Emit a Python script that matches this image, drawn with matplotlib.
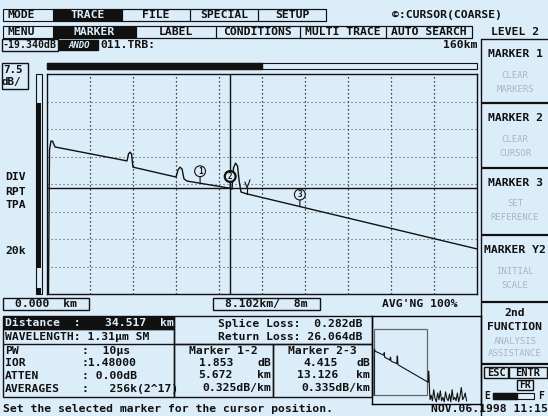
import numpy as np
import matplotlib
matplotlib.use("Agg")
import matplotlib.pyplot as plt
from matplotlib.patches import Rectangle

W, H = 548, 416
BG = "#dcedfa"
INK = "#111111"
DIM = "#aab6c2"
MONO = "DejaVu Sans Mono"

# --- screen texts -------------------------------------------------------
mode_tabs = ["TRACE", "FILE", "SPECIAL", "SETUP"]
mode_edges = [53, 122, 190, 258, 326]
menu_tabs = ["MARKER", "LABEL", "CONDITIONS", "MULTI TRACE", "AUTO SEARCH"]
menu_edges = [53, 136, 216, 300, 386, 472]
side_keys = ["MARKER 1", "MARKER 2", "MARKER 3", "MARKER Y2"]
side_hints = [("CLEAR", "MARKERS"), ("CLEAR", "CURSOR"),
              ("SET", "REFERENCE"), ("INITIAL", "SCALE")]
info_labels = ["PW", "IOR", "ATTEN", "AVERAGES"]
info_values = ["  10µs", "1.48000", " 0.00dB", "   256k(2^17)"]
m12 = ["1.853", "5.672", "0.325dB/km"]
m23 = ["4.415", "13.126", "0.335dB/km"]

# --- trace (km, dB) -----------------------------------------------------
km_per_div, db_per_div = 8.102, 7.5
n_xdiv, n_ydiv = 10, 8
trace_km = [0.28, 0.47, 0.75, 1.04, 1.51, 15.07, 15.36, 15.64, 15.92, 16.20,
            24.31, 24.68, 25.06, 25.44, 25.81, 26.38, 34.29, 34.86, 35.14,
            35.52, 35.90, 36.18, 36.55, 37.68, 81.0]
trace_db = [-60.0, -20.7, -18.3, -18.3, -19.9, -23.7, -21.8, -21.3, -21.8,
            -25.4, -28.1, -26.2, -25.4, -25.9, -28.6, -29.2, -31.1, -31.4,
            -25.6, -24.3, -25.1, -28.9, -32.2, -32.7, -47.7]
tail_km = [82.5, 83.2, 83.8, 84.6, 85.4, 87, 89, 91, 93, 95, 97, 99,
           101, 103, 105, 107, 109, 111, 113, 115, 117, 119, 121, 123, 125,
           127, 129, 131, 133, 135, 137, 139, 141]
tail_db = [-48.2, -38.0, -42.0, -56.0, -64.0, -60, -65, -55, -63, -66,
           -58, -64, -56, -65, -62, -66, -57, -63, -65, -59, -66, -55, -64,
           -62, -65, -58, -66, -61, -53, -64, -62, -58, -65]
cursor_km = 34.517
marker_km = [28.845, 34.517, 47.643]
ymark_km = [37.3, 37.7, 38.25]
ymark_db = [-29.5, -31.0, -28.9]

fig = plt.figure(figsize=(W / 100, H / 100), dpi=100, facecolor=BG)
ui = fig.add_axes([0, 0, 1, 1])
ui.set_xlim(0, W); ui.set_ylim(H, 0); ui.axis("off")


def rect(x0, y0, x1, y1, fc="none", ec=INK, lw=1.0):
    ui.add_patch(Rectangle((x0, y0), x1 - x0, y1 - y0, fc=fc, ec=ec, lw=lw))


def put(x, y, s, ha="left", c=INK, fs=8.2, fw="bold", **kw):
    ui.text(x, y, s, ha=ha, va="center", color=c, fontsize=fs,
            fontweight=fw, family=MONO, **kw)


def hline(y, x0, x1, lw=1.0, c=INK):
    ui.plot([x0, x1], [y, y], color=c, lw=lw, solid_capstyle="butt")


def px_axes(x0, y0, x1, y1):
    return fig.add_axes([x0 / W, 1 - y1 / H, (x1 - x0) / W, (y1 - y0) / H])


# top menus
put(8, 15, "MODE")
rect(3, 9, mode_edges[-1], 21, lw=0.8)
for i, lab in enumerate(mode_tabs):
    a, b = mode_edges[i], mode_edges[i + 1]
    rect(a, 9, b, 21, fc=INK if i == 0 else "none", lw=0.8)
    put((a + b) / 2, 15, lab, ha="center", c=BG if i == 0 else INK)
put(447, 15, "©:CURSOR(COARSE)", ha="center")
put(8, 32, "MENU")
rect(3, 26, menu_edges[-1], 38, lw=0.8)
for i, lab in enumerate(menu_tabs):
    a, b = menu_edges[i], menu_edges[i + 1]
    rect(a, 26, b, 38, fc=INK if i == 0 else "none", lw=0.8)
    put((a + b) / 2, 32, lab, ha="center", c=BG if i == 0 else INK)
put(515, 32, "LEVEL 2", ha="center")

rect(2, 39, 58, 51)
put(3, 45, "-19.340dB", fs=7.1)
rect(59, 40, 98, 50, fc=INK)
put(79, 45, "ANDO", ha="center", c=BG, fs=6.5, style="italic")
put(100, 45, "011.TRB:")
put(477, 45, "160km", ha="right")

# progress bar
rect(47, 63, 477, 69, lw=0.8)
rect(47, 63, 262, 69, fc=INK)

# left scale column
rect(2, 63, 28, 89)
put(3, 70, "7.5", fs=7.8)
put(1, 82, "dB/", fs=7.8)
rect(36, 74, 42, 294, lw=0.8)
rect(37, 103, 41, 268, fc=INK, lw=0)
rect(37, 288, 41, 294, fc=INK, lw=0)
put(5, 177, "DIV"); put(5, 192, "RPT"); put(5, 205, "TPA"); put(5, 251, "20k")

# main trace
ax = px_axes(47, 74, 477, 294)
ax.set_facecolor("none")
ax.set_xlim(0, n_xdiv * km_per_div)
ax.set_ylim(-n_ydiv * db_per_div, 0)
ax.set_xticks([]); ax.set_yticks([])
for s in ax.spines.values():
    s.set_linewidth(1.0); s.set_color(INK)
ax.vlines(np.arange(1, n_xdiv) * km_per_div, -60, 0, colors=INK, lw=0.9,
          linestyles=(0, (1, 2.2)))
ax.hlines(-np.arange(1, n_ydiv) * db_per_div, 0, 81, colors="#555555", lw=0.8,
          linestyles=(0, (1, 2.6)))
ax.plot(trace_km, trace_db, color=INK, lw=1.0)
cursor_db = np.interp(cursor_km, trace_km, trace_db)
ax.axvline(cursor_km, color=INK, lw=1.0)
ax.axhline(cursor_db, color=INK, lw=1.0)
for n, mk in enumerate(marker_km, 1):
    md = np.interp(mk, trace_km, trace_db)
    ax.annotate("", xy=(mk, md), xytext=(0, 7), textcoords="offset pixels",
                arrowprops=dict(arrowstyle="-", lw=0.8, color=INK,
                                shrinkA=0, shrinkB=0))
    ax.annotate(str(n), xy=(mk, md), xytext=(0, 12), textcoords="offset pixels",
                ha="center", va="center", fontsize=5.5, fontweight="bold",
                family=MONO, color=INK,
                bbox=dict(boxstyle="circle,pad=0.12", fc=BG, ec=INK,
                          lw=1.6 if n == 2 else 0.8))
ax.plot(ymark_km, ymark_db, color=INK, lw=0.8)
ax.plot([ymark_km[1]] * 2, [ymark_db[1], np.interp(ymark_km[1], trace_km, trace_db)],
        color=INK, lw=0.8)

# bottom status row
rect(3, 298, 89, 310)
put(46, 304, "0.000  km", ha="center")
rect(213, 298, 320, 310)
put(266, 304, "8.102km/  8m", ha="center")
put(420, 304, "AVG'NG 100%", ha="center")

# distance + info box
rect(3, 316, 174, 329, fc=INK)
put(5, 322.5, "Distance  :", c=BG)
put(174, 322.5, "34.517  km", ha="right", c=BG)
rect(3, 329, 174, 397)
put(5, 337, "WAVELENGTH: 1.31µm SM")
hline(344, 3, 174)
for i, (lab, val) in enumerate(zip(info_labels, info_values)):
    y = 351 + i * 12.5
    put(5, y, lab)
    put(82, y, ":" + val)

# splice / markers
rect(174, 316, 372, 344)
put(362, 324, "Splice Loss:  0.282dB", ha="right")
put(362, 337, "Return Loss: 26.064dB", ha="right")
rect(174, 344, 273, 397)
rect(273, 344, 372, 397)
put(223, 351, "Marker 1-2", ha="center")
put(322, 351, "Marker 2-3", ha="center")
units = ["dB", "km", ""]
for i in range(3):
    y = 363 + i * 12.5
    if units[i]:
        put(233, y, m12[i], ha="right"); put(271, y, units[i], ha="right")
        put(338, y, m23[i], ha="right"); put(370, y, units[i], ha="right")
    else:
        put(271, y, m12[i], ha="right"); put(370, y, m23[i], ha="right")

# overview inset
ins = px_axes(372, 316, 481, 404)
ins.set_facecolor("none")
ins.set_xticks([]); ins.set_yticks([])
for s in ins.spines.values():
    s.set_linewidth(1.0)
ins.set_xlim(-3, 163)
ins.set_ylim(-68, 12)
ins.add_patch(Rectangle((0, -60), n_xdiv * km_per_div, 60, fc="none",
                        ec="#666666", lw=0.9))
ins.plot(trace_km + tail_km, trace_db + tail_db, color=INK, lw=0.8)

# right soft-key panel
ui.plot([481, 481], [39, 416], color=INK, lw=1.0)
hline(39, 481, 548)
seps = [103, 168, 235, 302]
tops = [39] + seps[:-1]
for key, (h1, h2), t, b in zip(side_keys, side_hints, tops, seps):
    put(515, t + 15, key, ha="center")
    put(515, t + 36, h1, ha="center", c=DIM, fs=6.5, fw="normal")
    put(515, t + 50, h2, ha="center", c=DIM, fs=6.5, fw="normal")
    hline(b, 481, 548, lw=1.6)
put(515, 313, "2nd", ha="center")
put(515, 327, "FUNCTION", ha="center")
put(515, 341, "ANALYSIS", ha="center", c=DIM, fs=6.5, fw="normal")
put(515, 353, "ASSISTANCE", ha="center", c=DIM, fs=6.5, fw="normal")
hline(364, 481, 548, lw=1.6)
rect(484, 367, 508, 378)
put(496, 372.5, "ESC", ha="center", fs=7.5)
rect(509, 367, 547, 378)
put(528, 372.5, "ENTR", ha="center", fs=7.5)
rect(517, 380, 533, 390)
put(525, 385, "FR", ha="center", fs=7)
put(484, 396, "E", fs=7)
rect(493, 393, 534, 399, lw=0.8)
rect(493, 393, 517, 399, fc=INK)
put(538, 396, "F", fs=7)

put(3, 409, "Set the selected marker for the cursor position.")
put(548, 409, "NOV.06.1998 11:15", ha="right")

fig.savefig("out.png", dpi=100, facecolor=BG)
